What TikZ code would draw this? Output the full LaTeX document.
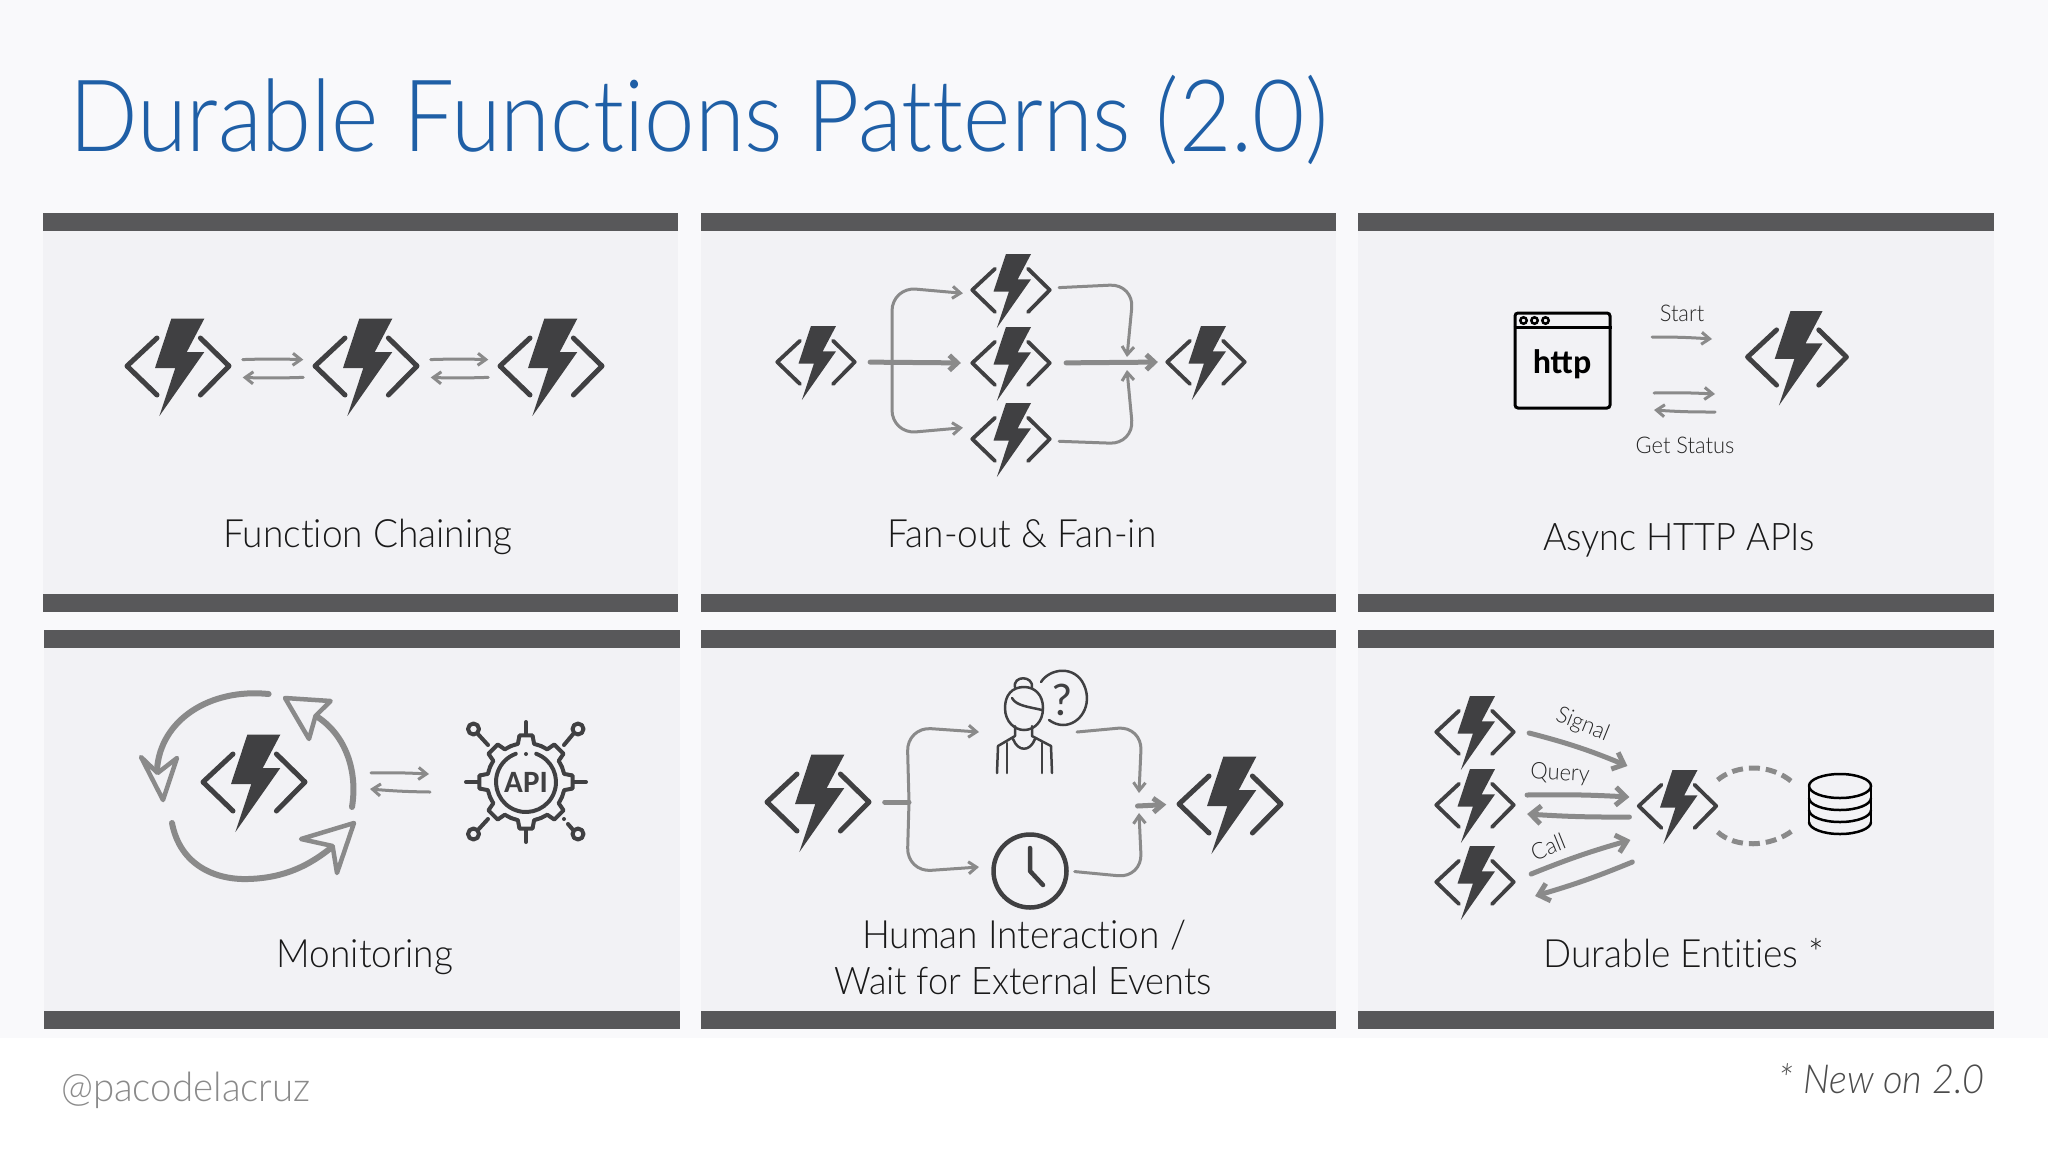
\documentclass[tikz,border=0pt]{standalone}
\usepackage{fontspec}
\setmainfont[FakeStretch=0.95, Ligatures=NoCommon]{Lato Light}
\newfontfamily\titleface[FakeStretch=0.905, Ligatures=NoCommon]{Lato Light}
\newfontfamily\boldface{Carlito}
\usetikzlibrary{arrows.meta}

\definecolor{ink}{HTML}{404042}
\definecolor{barcol}{HTML}{58585A}
\definecolor{panelcol}{HTML}{F2F2F5}
\definecolor{pagecol}{HTML}{F9F9FB}
\definecolor{sketch}{HTML}{8A8A8A}
\definecolor{titlecol}{HTML}{1F5FA6}

\tikzset{
  caption/.style={anchor=base, inner sep=0pt, text=black!90, font=\fontsize{39}{46}\selectfont},
  small/.style={inner sep=0pt, text=black!85, font=\fontsize{23}{28}\selectfont},
  sk/.style={draw=sketch, line width=3pt, line cap=round, -{Straight Barb[length=8pt,width=12pt]}},
  skline/.style={draw=sketch, line width=3pt, line cap=round},
  skmid/.style={draw=sketch, line width=5pt, line cap=round, -{Straight Barb[length=8pt,width=15pt]}},
  skfat/.style={draw=sketch, line width=5pt, line cap=round, -{Straight Barb[length=10pt,width=18pt]}},
  loopline/.style={draw=sketch, line width=6pt, line cap=round},
  loophead/.style={draw=sketch, line width=4.5pt, line join=round},
  iconline/.style={draw=ink, line width=3pt, line cap=round, line join=round},
}

% function icon: name, x, y, scale
\newcommand{\funcicon}[4]{%
  \node[minimum width=#4*105pt, minimum height=#4*98pt, inner sep=0pt] (#1) at (#2,#3) {};
  \fill[ink, shift={(#2,#3)}, scale=#4] (-6.7,-47.3) -- (26.3,-47.3) -- (8.8,-14) -- (26.3,-14)
    -- (-18.6,50) -- (-2.7,2) -- (-23,2) -- cycle;
  \draw[ink, line width=#4*5pt, line cap=round, line join=round, shift={(#2,#3)}, scale=#4]
    (-21,-28) -- (-51,0) -- (-21,29) (22.4,-28) -- (51,0) -- (22.4,29);
}

\begin{document}
\begin{tikzpicture}[x=1pt, y=-1pt]
  \path[use as bounding box, fill=white] (0,0) rectangle (2048,1152);
  \fill[pagecol] (0,0) rectangle (2048,1038);

  \node[anchor=base west, inner sep=0pt, text=titlecol, font=\titleface\fontsize{100}{120}\selectfont] (title) at (69,151)
    {Durable Functions Patterns (2.0)};

  % panels
  \foreach \xa/\xb/\ya/\yb in {43/678/213/612, 701/1336/213/612, 1358/1994/213/612,
      44/680/630/1029, 701/1336/630/1029, 1358/1994/630/1029} {
    \fill[panelcol] (\xa,\ya) rectangle (\xb,\yb);
    \fill[barcol] (\xa,\ya) rectangle (\xb,\ya+18);
    \fill[barcol] (\xa,\yb-18) rectangle (\xb,\yb);
  }

  % function chaining
  \funcicon{cha}{178}{366}{1}
  \funcicon{chb}{366}{366}{1}
  \funcicon{chc}{551}{366}{1}
  \foreach \from/\to in {cha/chb, chb/chc} {
    \draw[sk, shorten <=12pt, shorten >=10pt] ([yshift=6pt]\from.east) to[bend left=2] ([yshift=6pt]\to.west);
    \draw[sk, shorten <=10pt, shorten >=12pt] ([yshift=-11pt]\to.west) to[bend left=2] ([yshift=-11pt]\from.east);
  }
  \node[caption] (chcap) at (368,547) {Function Chaining};

  % fan-out, fan-in
  \funcicon{fo}{816}{362}{.76}
  \funcicon{ft}{1011}{290}{.76}
  \funcicon{fm}{1011}{363}{.76}
  \funcicon{fb}{1011}{439}{.76}
  \funcicon{fi}{1206}{362}{.76}
  \coordinate (trunk) at (892,362);
  \coordinate (jointop) at (1127,357);
  \coordinate (joinbot) at (1127,370);
  \draw[skmid, shorten <=14pt, shorten >=10pt] (fo.east) -- (fm.west);
  \draw[sk, rounded corners=24pt, shorten >=8pt] (trunk) -- (892,287) -- ([yshift=-4pt]ft.west);
  \draw[sk, rounded corners=24pt, shorten >=8pt] (trunk) -- (892,434) -- ([yshift=12pt]fb.west);
  \draw[sk, rounded corners=24pt, shorten <=8pt] ([yshift=2pt]ft.east) -- (1134,284) -- (jointop);
  \draw[sk, rounded corners=24pt, shorten <=8pt] ([yshift=-2pt]fb.east) -- (1134,444) -- (joinbot);
  \draw[skmid, shorten <=15pt, shorten >=8pt] (fm.east) -- (fi.west);
  \node[caption] (focap) at (1022,547) {Fan-out \& Fan-in};

  % async http
  \node[draw=black, line width=3pt, minimum width=95pt, minimum height=95pt, rounded corners=3pt, inner sep=0pt] (web) at (1562.5,360.5) {};
  \node[inner sep=0pt, font=\boldface\bfseries\fontsize{34}{40}\selectfont] (webtext) at (1562,364) {http};
  \draw[black, line width=3pt] ([yshift=-16pt]web.north west) -- ([yshift=-16pt]web.north east);
  \foreach \cx in {10,21,32}
    \draw[black, line width=2.5pt] ([shift={(\cx,9)}]web.north west) circle[radius=3.2];
  \funcicon{asf}{1797}{357}{.97}
  \coordinate (stl) at (1652,337);
  \coordinate (str) at (1712,339);
  \coordinate (gsl) at (1654,393);
  \coordinate (gsr) at (1715,394);
  \draw[sk] (stl) to[bend left=2] (str);
  \draw[sk] (gsl) to[bend left=2] (gsr);
  \draw[sk] ([yshift=-18pt]gsr) to[bend left=2] ([yshift=-17pt]gsl);
  \node[small] (start) at (1682,313) {Start};
  \node[small] (status) at (1685,445) {Get Status};
  \node[caption, font=\fontsize{38}{46}\selectfont] (ascap) at (1679,550) {Async HTTP APIs};

  % monitoring
  \funcicon{mon}{254}{782}{1}
  \draw[loopline] (268.6,694) .. controls (210,688) and (160,720) .. (157,770);
  \draw[loophead] (157.6,773) -- (141,757) -- (163,800) -- (177,758) -- cycle;
  \draw[loopline] (352,807) .. controls (358,770) and (345,735) .. (317.6,717);
  \draw[loophead] (315.5,716) -- (330.6,701) -- (285,698) -- (309,739) -- cycle;
  \draw[loopline] (172,823) .. controls (180,865) and (215,880) .. (248,879) .. controls (285,878) and (310,865) .. (332,847);
  \draw[loophead] (332.6,846) -- (301,839) -- (354,823) -- (337,873) -- cycle;
  \node[minimum size=120pt, inner sep=0pt] (api) at (526,782) {};
  \draw[sk, shorten <=2pt] (369,773) to[bend left=2] (429,774);
  \draw[sk] (430,792) to[bend left=2] (370,789);
  \begin{scope}[shift={(api.center)}]
    \foreach \a in {0,45,...,315}
      \draw[iconline, line width=4pt] ({\a-22.5}:39) -- ({\a-12}:39) -- ({\a-8}:47) -- ({\a+8}:47) -- ({\a+12}:39) -- ({\a+22.5}:39);
    \draw[iconline, line width=4pt] (-70:30) arc[start angle=-70, end angle=250, radius=30];
    \fill[ink] (0,-28) circle[radius=2];
    \foreach \a in {0,90,180,270}
      \draw[iconline, line width=4pt] (\a:47) -- (\a:60);
    \draw[iconline, line width=4pt] (-38,-37) -- (-49,-49) (38,-37) -- (48,-49) (-38,37) -- (-49,49) (42,42) -- (48,49);
    \fill[ink] (38,37) circle[radius=2];
    \foreach \cx/\cy in {-52.5/-53, 52/-53, -52.5/52, 52/52}
      \draw[iconline, line width=4pt, fill=panelcol] (\cx,\cy) circle[radius=5.5];
  \end{scope}
  \node[inner sep=0pt, text=ink, font=\boldface\bfseries\fontsize{31}{32}\selectfont] (apitext) at (api) {API};
  \node[caption] (mocap) at (365,967) {Monitoring};

  % human interaction
  \funcicon{hla}{818}{802}{1}
  \funcicon{hlb}{1230}{804}{1}
  \node[minimum width=56pt, minimum height=86pt, inner sep=0pt] (person) at (1024,730) {};
  \node[circle, draw=ink, line width=4.5pt, minimum size=73pt, inner sep=0pt] (clock) at (1030,871) {};
  \draw[iconline, line width=4.5pt] ([yshift=23pt]clock.center) -- (clock.center) -- ([shift={(13,14)}]clock.center);
  \draw[iconline, line width=2.5pt] (1005,708) .. controls (1005,722) and (1015,730) .. (1024,730)
    .. controls (1034,730) and (1043,722) .. (1043,708) .. controls (1043,695) and (1035,687) .. (1024,687)
    .. controls (1012,687) and (1005,695) .. (1005,708);
  \draw[iconline, line width=2.5pt] (1015,688) .. controls (1012,675) and (1034,675) .. (1032,688);
  \draw[iconline, line width=2.5pt] (1012,698) .. controls (1016,706) and (1030,707) .. (1042,710);
  \draw[iconline, line width=2.5pt] (1015,726) -- (1015,736) -- (998,746) -- (997,773) (1032,726) -- (1032,736) -- (1051,746) -- (1052,773);
  \draw[iconline, line width=2.5pt] (1007,743) -- (1007,773) (1042,743) -- (1042,773);
  \draw[iconline, line width=2.5pt] (1013,739) .. controls (1018,752) and (1030,752) .. (1035,739);
  \draw[iconline, line width=2.5pt] (1041,682) .. controls (1050,668) and (1075,665) .. (1084,685)
    .. controls (1093,705) and (1080,725) .. (1063,725) .. controls (1058,725) and (1053,723) .. (1049,720);
  \node[inner sep=0pt, text=ink, font=\boldface\fontsize{46}{48}\selectfont] (quest) at (1062,700) {?};
  \coordinate (hj) at (909,802);
  \coordinate (hjt) at (1139,793);
  \coordinate (hjb) at (1139,813);
  \draw[skline, line width=5pt, shorten <=14pt] (hla.east) -- (hj);
  \draw[sk, rounded corners=24pt] (hj) -- (907,727) -- (979,732);
  \draw[sk, rounded corners=24pt] (hj) -- (907,872) -- (979,867);
  \draw[sk, rounded corners=24pt] (1077,732) -- (1142,726) -- (hjt);
  \draw[sk, rounded corners=24pt, shorten <=6pt] (clock.east) -- (1142,878) -- (hjb);
  \coordinate (hout) at (1137.5,806);
  \draw[skmid, -{Straight Barb[length=9pt,width=14pt]}, shorten >=11pt] (hout) -- (hlb.west);
  \node[caption] (hucap) at (1024,948) {Human Interaction /};
  \node[caption, font=\fontsize{38}{46}\selectfont] (hucapb) at (1023,994) {Wait for External Events};

  % durable entities
  \funcicon{ena}{1475}{732}{.76}
  \funcicon{enb}{1475}{805}{.76}
  \funcicon{enc}{1475}{882}{.76}
  \funcicon{ent}{1677.5}{806}{.76}
  \node[minimum width=63pt, minimum height=60pt, inner sep=0pt] (db) at (1840,804) {};
  \draw[black, line width=2.5pt] (1809,786) arc[start angle=180, end angle=-180, x radius=31, y radius=12];
  \foreach \dy in {12,24,36}
    \draw[black, line width=2.5pt] (1809,786+\dy) arc[start angle=180, end angle=0, x radius=31, y radius=12];
  \draw[black, line width=2.5pt] (1809,786) -- (1809,822) (1871,786) -- (1871,822);
  \draw[skfat] ([shift={(14,1)}]ena.east) to[bend left=4] ([shift={(-10,-40)}]ent.west);
  \draw[skfat] ([shift={(12,-10)}]enb.east) to[bend left=2] ([shift={(-8,-9)}]ent.west);
  \draw[skfat] ([shift={(-8,11)}]ent.west) to[bend left=2] ([shift={(12,9)}]enb.east);
  \draw[skfat] ([shift={(16,-8)}]enc.east) to[bend left=3] ([shift={(-7,34)}]ent.west);
  \draw[skfat] ([shift={(-5,56)}]ent.west) to[bend left=3] ([shift={(20,14)}]enc.east);
  \draw[draw=sketch, line width=5pt, dash pattern=on 11pt off 6pt]
    ([yshift=26pt]ent.east) .. controls (1735,765) and (1770,762) .. ([shift={(-15,-21)}]db.west);
  \draw[draw=sketch, line width=5pt, dash pattern=on 11pt off 6pt]
    ([yshift=-26pt]ent.east) .. controls (1735,848) and (1770,848) .. ([shift={(-15,26)}]db.west);
  \node[small, rotate=-22] (signal) at (1582.5,725) {Signal};
  \node[small, rotate=-3] (query) at (1560,774) {Query};
  \node[small, rotate=22] (call) at (1548,847) {Call};
  \node[caption] (encap) at (1684,967) {Durable Entities *};

  % footer
  \node[anchor=base west, inner sep=0pt, text=sketch, font=\fontsize{40.5}{46}\selectfont] (handle) at (61,1101) {@pacodelacruz};
  \node[anchor=base east, inner sep=0pt, text=black!70, font=\itshape\fontsize{40}{46}\selectfont] (newnote) at (1985,1093) {* New on 2.0};
\end{tikzpicture}
\end{document}
